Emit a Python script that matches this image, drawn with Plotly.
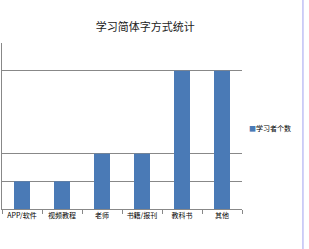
import plotly.graph_objects as go

categories = ["APP/软件", "视频教程", "老师", "书籍/报刊", "教科书", "其他"]
values = [1, 1, 2, 2, 5, 5]
series_name = "学习者个数"
title_text = "学习简体字方式统计"
grid_vals = [1, 2, 5, 6]
bar_color = "#4a7ab6"

fig = go.Figure()
fig.add_trace(go.Bar(x=categories, y=values, name=series_name,
                     marker=dict(color=bar_color, line=dict(width=0))))

fig.update_layout(
    width=309, height=249,
    margin=dict(l=2, r=67, t=43, b=40, autoexpand=False),
    paper_bgcolor="white", plot_bgcolor="white",
    title=dict(text=title_text, x=0.47, xanchor="center", y=0.89, yanchor="middle",
               font=dict(family="Noto Sans CJK SC", size=11, color="#222")),
    bargap=0.6,
    showlegend=False,
    font=dict(family="Noto Sans CJK SC"),
)
fig.add_annotation(xref="paper", yref="paper", x=1.02, y=0.49, xanchor="left", yanchor="middle",
                   showarrow=False,
                   text=f"<span style='color:{bar_color}'>■</span>{series_name}",
                   font=dict(family="Noto Sans CJK SC", size=7, color="#000"))
fig.update_xaxes(showline=True, linecolor="#888", linewidth=1,
                 ticks="outside", tickson="boundaries", ticklen=4, tickcolor="#888",
                 tickfont=dict(size=7, color="#000"), tickangle=0, showgrid=False)
fig.update_yaxes(range=[0, 6], tickvals=grid_vals, showticklabels=False,
                 showgrid=True, gridcolor="#888", gridwidth=1,
                 showline=True, linecolor="#888", linewidth=1, zeroline=False)
fig.add_shape(type="line", xref="paper", yref="paper", x0=1.254, x1=1.254, y0=-0.3, y1=1.3,
              line=dict(color="#a0a0f0", width=1))
fig.write_html("out.html")
